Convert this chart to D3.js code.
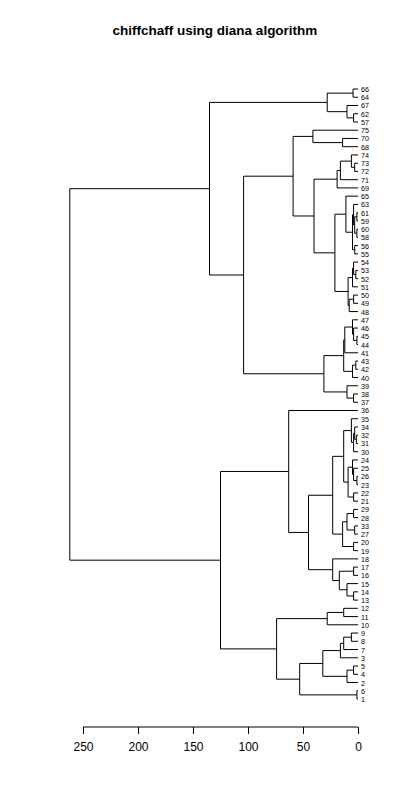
<!DOCTYPE html><html><head><meta charset="utf-8"><script src="https://cdn.jsdelivr.net/npm/d3@7"></script>
<style>body{margin:0;background:#fff}</style></head><body><svg id="c" width="400" height="800"></svg>
<script>
// Tree as nested [height, childA, childB]; numbers are leaf labels
const topA = [28, [4.5,66,64], [10,67,[4,62,57]]];
const topB = [59, [41,75,[14,70,68]], [40, [19,[16,[6,74,[3,73,72]],71],69],
  [21, [11,65,[5,[4,63,[3,[1,61,59],[1,60,58]]],[3,56,55]]],
       [9,[5,[4,54,[2,53,52]],51],[8,[4,50,49],48]]]]];
const topC = [31, [13,[12,[5,47,[4,46,[1,45,44]]],41],[5,[2,43,42],40]], [10,39,[4,38,37]]];
const botA = [63, 36, [45, [23, [13, [6,35,[4,[3,34,[1.5,32,31]],30]], [9,[5,24,[4,25,[1,26,23]]],[4,22,21]]],
  [14,[10,[4,29,28],[3,33,27]],[4,20,19]]], [23,18,[17,[4,17,16],[10,15,[4,14,13]]]]]];
const botB = [74, [28,[13,12,11],10], [53, [32,[16,[13,[6,9,8],7],3],[10,[4,5,4],2]], [1,6,1]]];
const tree = [262, [135, topA, [104, topB, topC]], [125, botA, botB]];
const ticks = [250,200,150,100,50,0];
const title = "chiffchaff using diana algorithm";

const svg = d3.select("#c");
const x = d3.scaleLinear().domain([0,250]).range([358,83]);
const leaves = [];
(function collect(n){ if(typeof n==="number") leaves.push(n); else {collect(n[1]);collect(n[2]);} })(tree);
const y = d3.scalePoint().domain(leaves).range([89,699]);
const g = svg.append("g").attr("stroke","#000").attr("fill","none").attr("stroke-width",1);
function draw(n){
  if(typeof n==="number") return {y:y(n),h:0};
  const a=draw(n[1]), b=draw(n[2]), xh=x(n[0]);
  g.append("path").attr("d",`M${x(a.h)},${a.y}H${xh}V${b.y}H${x(b.h)}`);
  return {y:(a.y+b.y)/2,h:n[0]};
}
draw(tree);
svg.append("g").selectAll("text").data(leaves).join("text")
  .attr("x",361).attr("y",d=>y(d)+3).attr("font-family","Liberation Sans, Arial").attr("font-size",7.2).text(d=>d);
svg.append("text").attr("x",215).attr("y",35).attr("text-anchor","middle")
  .attr("font-family","Liberation Sans, Arial").attr("font-weight","bold").attr("font-size",13.5).text(title);
const ax = svg.append("g").attr("transform","translate(0,727)")
  .call(d3.axisBottom(x).tickValues(ticks).tickSize(7).tickPadding(8).tickSizeOuter(0));
ax.select(".domain").attr("d","M83,0H358");
ax.selectAll("text").attr("font-family","Liberation Sans, Arial").attr("font-size",12);
</script></body></html>
